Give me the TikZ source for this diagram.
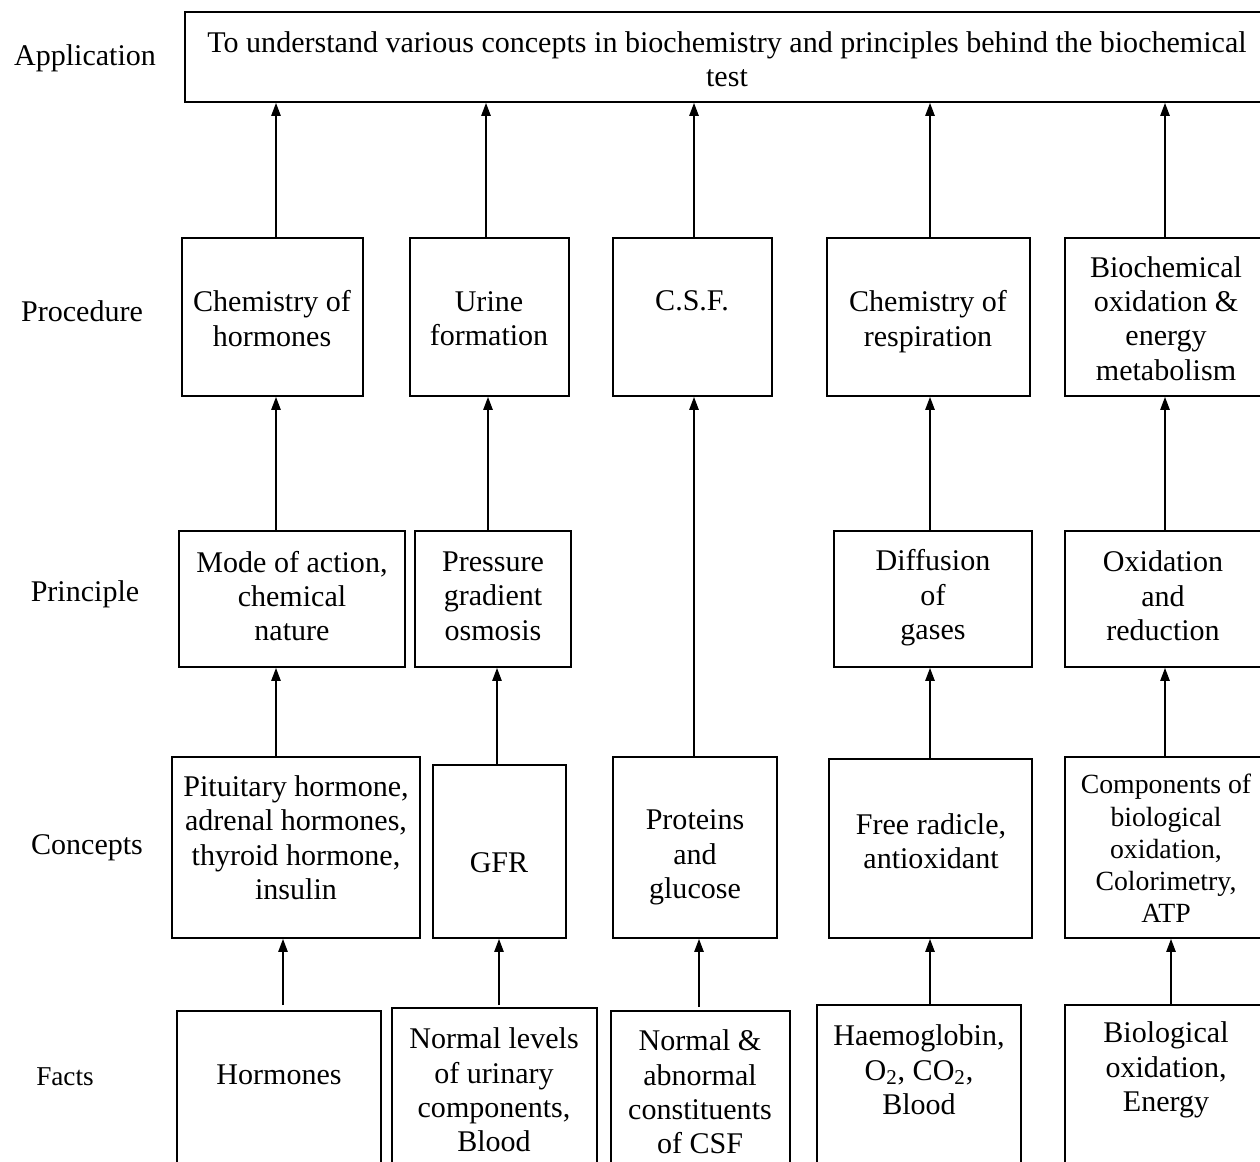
\documentclass[tikz,border=0pt]{standalone}
\usepackage{fontspec}
\setmainfont{Liberation Serif}
\usetikzlibrary{arrows.meta}
\begin{document}
\begin{tikzpicture}[x=0.02cm,y=-0.02cm,
  box/.style 2 args={draw, line width=1.1pt, minimum width=#1*0.02cm,
    minimum height=#2*0.02cm, inner sep=0pt},
  txt/.style={align=center, inner sep=0pt, font=\fontsize{17.1}{19.6}\selectfont},
  smalltxt/.style={align=center, inner sep=0pt, font=\fontsize{15.8}{18.3}\selectfont},
  rowlabel/.style={inner sep=0pt, font=\fontsize{17.1}{19.6}\selectfont},
  arr/.style={line width=0.7pt, -{Triangle[length=0.26cm,width=0.19cm]}}]

\useasboundingbox (0,0) rectangle (1260,1162);
\fill[white] (0,0) rectangle (1260,1162);
\clip (0,0) rectangle (1260,1162);

% row labels
\node[rowlabel] (lapp)  at (85,58)   {Application};
\node[rowlabel] (lproc) at (82,311)  {Procedure};
\node[rowlabel] (lprin) at (85,594)  {Principle};
\node[rowlabel] (lconc) at (87,848)  {Concepts};
\node[inner sep=0pt, font=\fontsize{15.5}{18}\selectfont] (lfact) at (65,1077) {Facts};

% application
\node[box={1084}{90}] (app) at (727,57) {};
\node[txt] (tapp) at (727,59.5) {To understand various concepts in biochemistry and principles behind the biochemical\\test};

% procedure row
\node[box={181}{158}] (p1) at (272.5,317) {};
\node[box={159}{158}] (p2) at (489.5,317) {};
\node[box={159}{158}] (p3) at (692.5,317) {};
\node[box={203}{158}] (p4) at (928.5,317) {};
\node[box={202}{158}] (p5) at (1166,317) {};
\node[txt] (tp1) at (272,318.5) {Chemistry of\\hormones};
\node[txt] (tp2) at (489,318.5) {Urine\\formation};
\node[txt] (tp3) at (692,300.5) {C.S.F.};
\node[txt] (tp4) at (928,321.5) {Chemistry of\\respiration};
\node[txt] (tp5) at (1166,318.5) {Biochemical\\oxidation \&\\energy\\metabolism};

% principle row
\node[box={226}{136}] (r1) at (292,599) {};
\node[box={156}{136}] (r2) at (493,599) {};
\node[box={198}{136}] (r3) at (933,599) {};
\node[box={203}{136}] (r4) at (1166.5,599) {};
\node[txt] (tr1) at (292,596) {Mode of action,\\chemical\\nature};
\node[txt] (tr2) at (493,596) {Pressure\\gradient\\osmosis};
\node[txt] (tr3) at (933,598) {Diffusion\\of\\gases};
\node[txt] (tr4) at (1163,596) {Oxidation\\and\\reduction};

% concepts row
\node[box={248}{181}] (c1) at (296,847.5) {};
\node[box={133}{173}] (c2) at (499.5,851.5) {};
\node[box={164}{181}] (c3) at (695,847.5) {};
\node[box={203}{179}] (c4) at (930.5,848.5) {};
\node[box={203}{181}] (c5) at (1166.5,847.5) {};
\node[txt] (tc1) at (296,837.5) {Pituitary hormone,\\adrenal hormones,\\thyroid hormone,\\insulin};
\node[txt] (tc2) at (499,862.5) {GFR};
\node[txt] (tc3) at (695,857.5) {Proteins\\and\\glucose};
\node[txt] (tc4) at (931,841) {Free radicle,\\antioxidant};
\node[smalltxt] (tc5) at (1166,848.5) {Components of\\biological\\oxidation,\\Colorimetry,\\ATP};

% facts row (boxes run past the lower edge)
\node[box={204}{200}] (f1) at (279,1111) {};
\node[box={205}{203}] (f2) at (494.5,1109.5) {};
\node[box={179}{200}] (f3) at (700.5,1111) {};
\node[box={204}{206}] (f4) at (919,1108) {};
\node[box={203}{206}] (f5) at (1166.5,1108) {};
\node[txt] (tf1) at (279,1075) {Hormones};
\node[txt] (tf2) at (494,1090) {Normal levels\\of urinary\\components,\\Blood};
\node[txt] (tf3) at (700,1092) {Normal \&\\abnormal\\constituents\\of CSF};
\node[txt] (tf4) at (919,1070) {Haemoglobin,\\O\textsubscript{2}, CO\textsubscript{2},\\Blood};
\node[txt] (tf5) at (1166,1070) {Biological\\oxidation,\\Energy};

% vertical lanes of the connectors
\coordinate (k1) at (276,0);
\coordinate (k1f) at (283,0);
\coordinate (k2a) at (486,0);
\coordinate (k2b) at (488,0);
\coordinate (k2c) at (497,0);
\coordinate (k2f) at (499,0);
\coordinate (k3) at (694,0);
\coordinate (k3f) at (699,0);
\coordinate (k4) at (930,0);
\coordinate (k5) at (1165,0);
\coordinate (k5f) at (1171,0);

% procedure -> application
\draw[arr] (p1.north -| k1)  -- (app.south -| k1);
\draw[arr] (p2.north -| k2a) -- (app.south -| k2a);
\draw[arr] (p3.north -| k3)  -- (app.south -| k3);
\draw[arr] (p4.north -| k4)  -- (app.south -| k4);
\draw[arr] (p5.north -| k5)  -- (app.south -| k5);

% principle -> procedure
\draw[arr] (r1.north -| k1)  -- (p1.south -| k1);
\draw[arr] (r2.north -| k2b) -- (p2.south -| k2b);
\draw[arr] (r3.north -| k4)  -- (p4.south -| k4);
\draw[arr] (r4.north -| k5)  -- (p5.south -| k5);

% concepts -> principle / procedure
\draw[arr] (c1.north -| k1)  -- (r1.south -| k1);
\draw[arr] (c2.north -| k2c) -- (r2.south -| k2c);
\draw[arr] (c3.north -| k3)  -- (p3.south -| k3);
\draw[arr] (c4.north -| k4)  -- (r3.south -| k4);
\draw[arr] (c5.north -| k5)  -- (r4.south -| k5);

% facts -> concepts
\draw[arr, shorten <=0.1cm]  (f1.north -| k1f) -- (c1.south -| k1f);
\draw[arr, shorten <=0.04cm] (f2.north -| k2f) -- (c2.south -| k2f);
\draw[arr, shorten <=0.06cm] (f3.north -| k3f) -- (c3.south -| k3f);
\draw[arr] (f4.north -| k4)  -- (c4.south -| k4);
\draw[arr] (f5.north -| k5f) -- (c5.south -| k5f);

\end{tikzpicture}
\end{document}
